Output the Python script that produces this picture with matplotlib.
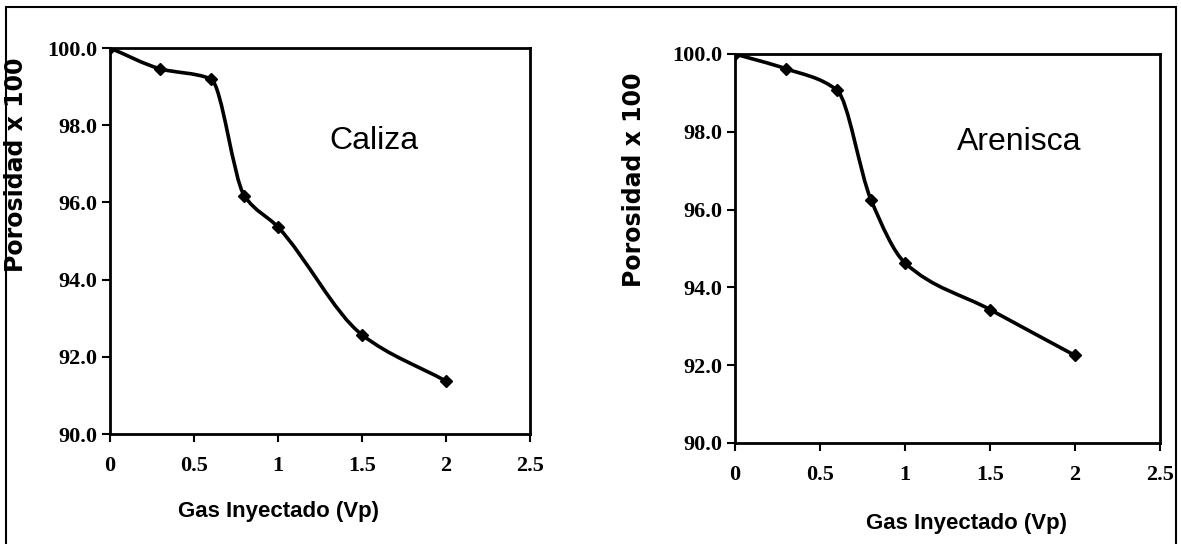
import numpy as np
import matplotlib
matplotlib.use("Agg")
import matplotlib.pyplot as plt
from matplotlib.path import Path
from matplotlib.patches import PathPatch, Rectangle

# data
gas_vp = [0, 0.3, 0.6, 0.8, 1.0, 1.5, 2.0]
caliza = [100.0, 99.46, 99.2, 96.17, 95.36, 92.57, 91.37]
arenisca = [100.0, 99.62, 99.07, 96.25, 94.63, 93.43, 92.25]

x_ticks = [0, 0.5, 1, 1.5, 2, 2.5]
x_tick_labels = ["0", "0.5", "1", "1.5", "2", "2.5"]
y_ticks = [90, 92, 94, 96, 98, 100]
y_tick_labels = ["90.0", "92.0", "94.0", "96.0", "98.0", "100.0"]


def smooth_path(x, y):
    """Monotone (Fritsch-Carlson) smoothed line through the points, as cubic beziers."""
    x = np.asarray(x, float)
    y = np.asarray(y, float)
    h = np.diff(x)
    d = np.diff(y) / h
    m = np.zeros_like(y)
    m[0], m[-1] = d[0], d[-1]
    for k in range(1, len(x) - 1):
        if d[k - 1] * d[k] <= 0:
            m[k] = 0
        else:
            w1 = 2 * h[k] + h[k - 1]
            w2 = h[k] + 2 * h[k - 1]
            m[k] = (w1 + w2) / (w1 / d[k - 1] + w2 / d[k])
    verts = [(x[0], y[0])]
    codes = [Path.MOVETO]
    for i in range(len(x) - 1):
        verts += [(x[i] + h[i] / 3, y[i] + m[i] * h[i] / 3),
                  (x[i + 1] - h[i] / 3, y[i + 1] - m[i + 1] * h[i] / 3),
                  (x[i + 1], y[i + 1])]
        codes += [Path.CURVE4] * 3
    return Path(verts, codes)


def draw_panel(ax, y, name, name_xy):
    ax.add_patch(PathPatch(smooth_path(gas_vp, y), fill=False, lw=2.6, color="black"))
    ax.plot(gas_vp, y, ls="none", marker="D", ms=6, color="black")
    ax.set_xlim(0, 2.5)
    ax.set_ylim(90, 100)
    ax.set_xticks(x_ticks)
    ax.set_xticklabels(x_tick_labels)
    ax.set_yticks(y_ticks)
    ax.set_yticklabels(y_tick_labels)
    for lab in ax.get_xticklabels() + ax.get_yticklabels():
        lab.set_fontfamily("Liberation Serif")
        lab.set_fontweight("bold")
        lab.set_fontsize(16)
    ax.tick_params(direction="out", length=6, width=1.5, pad=3)
    ax.tick_params(axis="x", pad=10)
    for s in ax.spines.values():
        s.set_linewidth(2)
    ax.text(name_xy[0], name_xy[1], name, fontsize=23, family="Liberation Sans",
            ha="center", va="center")


fig = plt.figure(figsize=(11.81, 5.44), dpi=100)

ax1 = fig.add_axes([110 / 1181, 1 - 434 / 544, 420 / 1181, 386 / 544])
ax2 = fig.add_axes([735 / 1181, 1 - 443 / 544, 425 / 1181, 389 / 544])

draw_panel(ax1, caliza, "Caliza", (1.57, 97.6))
draw_panel(ax2, arenisca, "Arenisca", (1.67, 97.75))

# axis titles, placed where they sit in the original
fig.text(16 / 1181, 1 - 165 / 544, "Porosidad x 100", rotation=90, fontsize=17,
         fontweight="bold", family="DejaVu Sans", ha="center", va="center")
fig.text(634 / 1181, 1 - 180 / 544, "Porosidad x 100", rotation=90, fontsize=17,
         fontweight="bold", family="DejaVu Sans", ha="center", va="center")
fig.text(278 / 1181, 1 - 512 / 544, "Gas Inyectado (Vp)", fontsize=16,
         fontweight="bold", family="Liberation Sans", ha="center", va="center")
fig.text(967 / 1181, 1 - 523 / 544, "Gas Inyectado (Vp)", fontsize=16,
         fontweight="bold", family="Liberation Sans", ha="center", va="center")

# outer frame of the picture
fig.add_artist(Rectangle((6 / 1181, -0.02), 1170 / 1181, 1.02 - 7 / 544,
                         transform=fig.transFigure, fill=False, lw=1.5, color="black"))

fig.savefig("out.png", dpi=100)
